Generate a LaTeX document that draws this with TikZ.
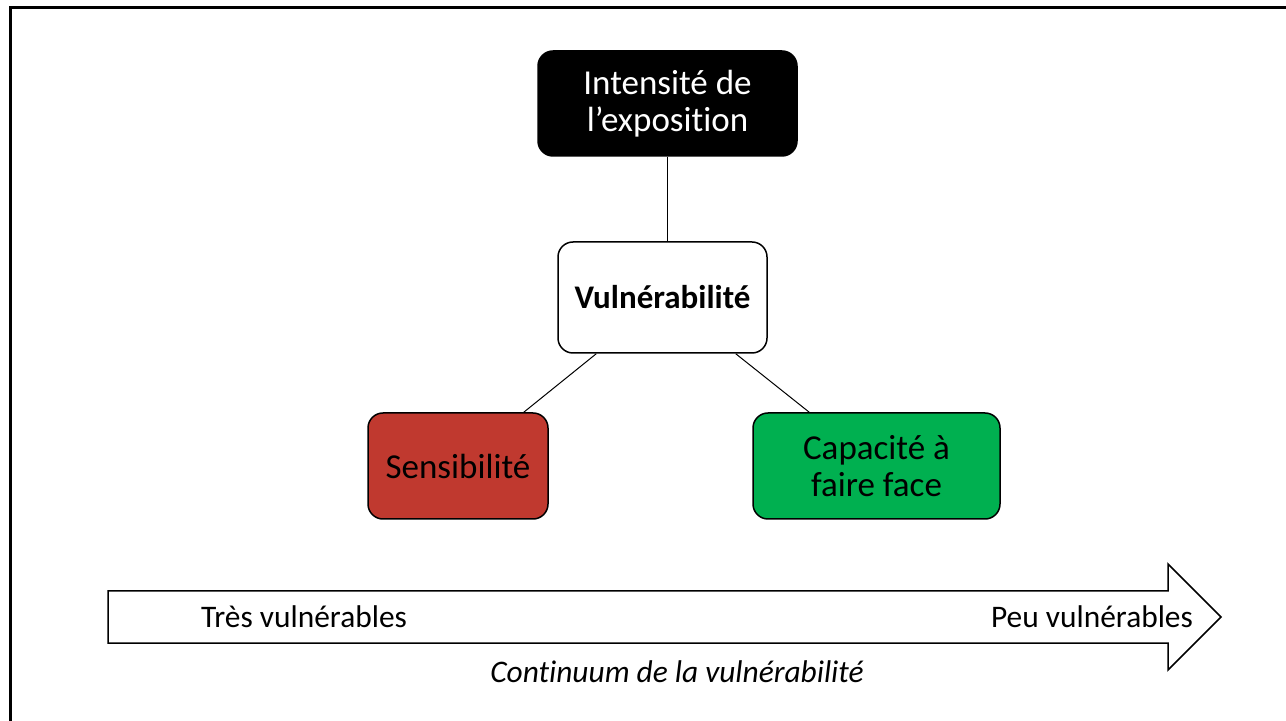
\documentclass[tikz,border=0pt]{standalone}
\usepackage{fontspec}
\setmainfont{Carlito}[Ligatures=CommonOff]
\usetikzlibrary{calc}

\definecolor{sensred}{RGB}{192,57,47}
\definecolor{capgreen}{RGB}{0,176,80}

\tikzset{
    box/.style={draw, line width=0.75pt, rounded corners=7.5pt, align=center,
        font=\fontsize{17.5}{18.5}\selectfont},
    link/.style={line width=0.5pt},
    scale label/.style={font=\fontsize{15.7}{18}\selectfont}
}

\begin{document}
\begin{tikzpicture}[x=0.5pt, y=-0.5pt]
        \useasboundingbox (0,0) rectangle (1286,721);
        \draw[line width=1.5pt] (10.5,721) -- (10.5,7.5) -- (1286,7.5);

        \node[box, fill=black, text=white, minimum width=129.5pt, minimum height=52.5pt] (expo) at (667.5,103.5) {Intensité de\\l’exposition};
        \node[box, fill=white, minimum width=104.5pt, minimum height=55.5pt, font=\fontsize{16.5}{18}\selectfont\bfseries] (vuln) at (662.5,297.5) {Vulnérabilité};
        \node[box, fill=sensred, minimum width=90pt, minimum height=53pt] (sens) at (458,466) {Sensibilité};
        \node[box, fill=capgreen, minimum width=123.5pt, minimum height=53pt] (cap) at (876.5,466) {Capacité à\\faire face};

        \draw[link] (expo.south) -- (expo.south |- vuln.north);
        \draw[link] ([xshift=19.5pt]vuln.south west) -- ([xshift=-12.5pt]sens.north east);
        \draw[link] ([xshift=-16pt]vuln.south east) -- ([xshift=28.5pt]cap.north west);

        % continuum arrow
        \draw[line width=0.75pt] (108,591) -- (1168,591) -- (1168,564) -- (1221,617) -- (1168,670) -- (1168,643) -- (108,643) -- cycle;
        \node[scale label] (tres) at (304,617) {Très vulnérables};
        \node[scale label] (peu) at (1092,617) {Peu vulnérables};
        \node[scale label, font=\fontsize{15.7}{18}\selectfont\itshape] (cont) at (677,672) {Continuum de la vulnérabilité};
    \end{tikzpicture}
\end{document}
